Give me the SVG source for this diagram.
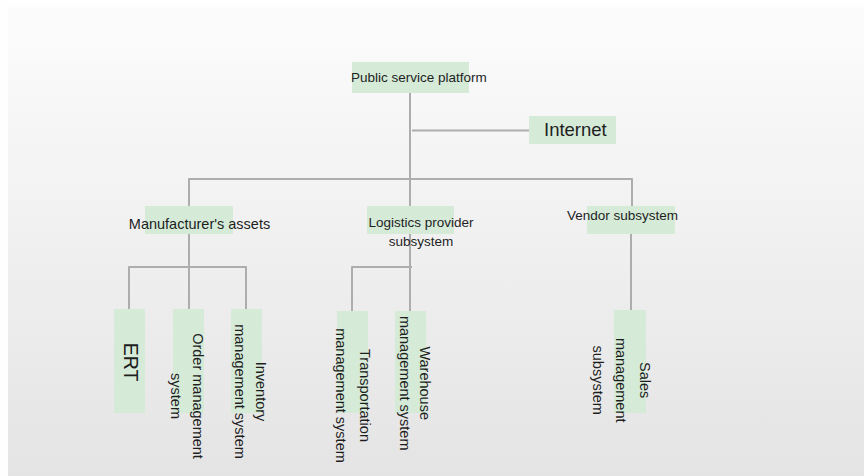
<svg xmlns="http://www.w3.org/2000/svg" width="864" height="476" viewBox="0 0 864 476">
<defs>
<linearGradient id="bg" x1="0" y1="0" x2="0" y2="1">
<stop offset="0" stop-color="#fcfcfc"/>
<stop offset="1" stop-color="#e4e4e4"/>
</linearGradient>
</defs>
<style>
.box{fill:#d5ebd8}
.t{font-family:"Liberation Sans",Arial,sans-serif;fill:#1e1e1e}
.s135{font-size:13.5px}
.s145{font-size:14.5px}
.c{text-anchor:middle}
.ln{fill:none;stroke:#adadad;stroke-width:2;stroke-linejoin:round}
</style>
<rect x="0" y="0" width="864" height="476" fill="#fefefe"/>
<rect x="8" y="7" width="856" height="469" fill="url(#bg)"/>
<g id="connectors">
<path class="ln" d="M410,93 V206"/>
<path class="ln" d="M412,130.5 H529"/>
<path class="ln" d="M189,206 V179 H632 V206"/>
<path class="ln" d="M189,234 V309"/>
<path class="ln" d="M129,309 V267 H246 V309"/>
<path class="ln" d="M410,234 V311"/>
<path class="ln" d="M412,267 H352 V311"/>
<path class="ln" d="M631,234 V310"/>
</g>
<g id="public">
<rect class="box" x="352" y="62" width="117" height="31"/>
<text class="t s135" x="351" y="82">Public service platform</text>
</g>
<g id="internet">
<rect class="box" x="529" y="116" width="87" height="28"/>
<text class="t" style="font-size:18.5px" x="544" y="136">Internet</text>
</g>
<g id="manufacturer">
<rect class="box" x="145" y="206" width="88" height="28"/>
<text class="t s145 c" x="199.5" y="229">Manufacturer's assets</text>
</g>
<g id="logistics">
<rect class="box" x="367" y="206" width="87" height="28"/>
<text class="t s135 c" x="421" y="226.5">Logistics provider<tspan x="421" y="245.5">subsystem</tspan></text>
</g>
<g id="vendor">
<rect class="box" x="587" y="206" width="88" height="28"/>
<text class="t s135 c" x="622.5" y="220">Vendor subsystem</text>
</g>
<g id="ert">
<rect class="box" x="114" y="309" width="31" height="104"/>
<text class="t c" style="font-size:19.5px" transform="translate(123.5,362) rotate(90)" x="0" y="0">ERT</text>
</g>
<g id="order">
<rect class="box" x="173" y="309" width="31" height="104"/>
<text class="t s145 c" transform="translate(193,396) rotate(90)" x="0" y="0">Order management<tspan x="0" y="22.5">system</tspan></text>
</g>
<g id="inventory">
<rect class="box" x="231" y="309" width="31" height="104"/>
<text class="t s145 c" transform="translate(256.3,391.5) rotate(90)" x="0" y="0">Inventory<tspan x="0" y="21.7">management system</tspan></text>
</g>
<g id="transportation">
<rect class="box" x="337" y="311" width="31" height="102"/>
<text class="t s145 c" transform="translate(360.3,395.5) rotate(90)" x="0" y="0">Transportation<tspan x="0" y="24">management system</tspan></text>
</g>
<g id="warehouse">
<rect class="box" x="395" y="311" width="31" height="102"/>
<text class="t s145 c" transform="translate(420.3,383.2) rotate(90)" x="0" y="0">Warehouse<tspan x="0" y="20.7">management system</tspan></text>
</g>
<g id="sales">
<rect class="box" x="614" y="310" width="32" height="103"/>
<text class="t s145 c" transform="translate(640.3,380.2) rotate(90)" x="0" y="0">Sales<tspan x="0" y="24">management</tspan><tspan x="0" y="47.6">subsystem</tspan></text>
</g>
</svg>
